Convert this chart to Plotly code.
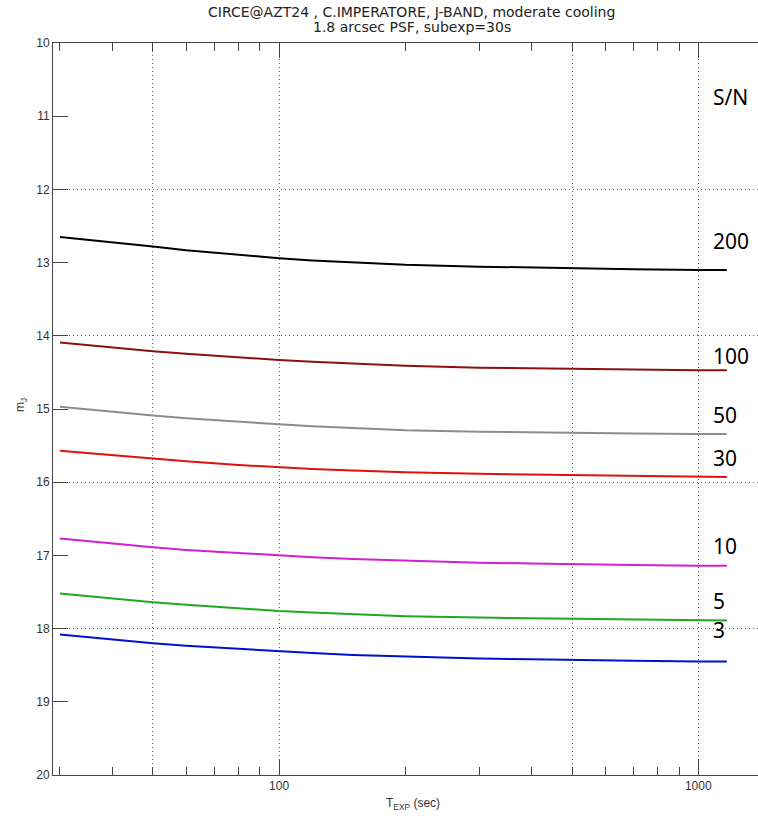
import plotly.graph_objects as go

# ---- data ----
t_exp = [30, 40, 50, 60, 80, 100, 120, 150, 200, 300, 400, 500, 700, 1000, 1170]
sn_levels = ["200", "100", "50", "30", "10", "5", "3"]
mag_sn200 = [12.65, 12.72, 12.78, 12.83, 12.895, 12.94, 12.97, 13.00, 13.03, 13.055, 13.07, 13.08, 13.09, 13.10, 13.10]
mag_sn100 = [14.09, 14.16, 14.21, 14.245, 14.295, 14.33, 14.355, 14.38, 14.41, 14.435, 14.445, 14.455, 14.46, 14.47, 14.47]
mag_sn50 = [14.97, 15.04, 15.09, 15.125, 15.175, 15.21, 15.235, 15.26, 15.29, 15.31, 15.32, 15.33, 15.335, 15.34, 15.34]
mag_sn30 = [15.57, 15.63, 15.68, 15.715, 15.765, 15.80, 15.82, 15.84, 15.865, 15.885, 15.895, 15.90, 15.91, 15.92, 15.93]
mag_sn10 = [16.77, 16.84, 16.89, 16.925, 16.97, 17.00, 17.025, 17.05, 17.075, 17.10, 17.11, 17.12, 17.13, 17.14, 17.14]
mag_sn5 = [17.52, 17.59, 17.64, 17.675, 17.725, 17.76, 17.78, 17.80, 17.83, 17.85, 17.86, 17.87, 17.88, 17.89, 17.89]
mag_sn3 = [18.08, 18.15, 18.20, 18.235, 18.28, 18.31, 18.335, 18.36, 18.385, 18.41, 18.42, 18.43, 18.44, 18.45, 18.45]
series = [mag_sn200, mag_sn100, mag_sn50, mag_sn30, mag_sn10, mag_sn5, mag_sn3]
colors = ["#000000", "#8B1010", "#8C8C8C", "#E01010", "#D020D0", "#20A820", "#0010D0"]
label_mag = [12.70, 14.27, 15.08, 15.67, 16.87, 17.62, 18.02]

x_major = [100, 1000]
x_minor = [30, 40, 50, 60, 70, 80, 90, 200, 300, 400, 500, 600, 700, 800, 900]
x_grid = [50, 100, 500, 1000]
y_ticks = list(range(10, 21))
y_grid = [12, 14, 16, 18]

xr = [1.4606, 3.1425]
yr = [20, 10]

fig = go.Figure()
for vals, col in zip(series, colors):
    fig.add_trace(go.Scatter(x=t_exp, y=vals, mode="lines",
                             line=dict(color=col, width=2), showlegend=False,
                             hoverinfo="skip"))
fig.add_trace(go.Scatter(x=[None], y=[None], xaxis="x2", yaxis="y2",
                         showlegend=False, hoverinfo="skip"))

axcol = "#444444"
gridcol = "#666666"
tickfont = dict(family="Liberation Sans", size=12, color="#333333")

fig.update_layout(
    width=758, height=821,
    margin=dict(l=53, r=0, t=43, b=46),
    paper_bgcolor="white", plot_bgcolor="white",
    xaxis=dict(type="log", range=xr, tickmode="array", tickvals=x_major,
               ticktext=["100", "1000"], ticks="inside", ticklen=15,
               tickcolor=axcol, tickwidth=1, showgrid=False, zeroline=False,
               showline=True, linecolor=axcol, linewidth=1, mirror="ticks",
               tickfont=tickfont,
               minor=dict(tickmode="array", tickvals=x_minor, ticks="inside",
                          ticklen=8, tickcolor=axcol, tickwidth=1,
                          showgrid=False)),
    yaxis=dict(range=yr, tickmode="array", tickvals=y_ticks,
               ticks="inside", ticklen=15, tickcolor=axcol, tickwidth=1,
               showgrid=False, zeroline=False, showline=True,
               linecolor=axcol, linewidth=1, mirror=False, tickfont=tickfont),
    xaxis2=dict(type="log", range=xr, overlaying="x", anchor="y",
                tickmode="array", tickvals=x_grid, showticklabels=False,
                ticks="", showgrid=True, gridcolor=gridcol, gridwidth=1,
                griddash="1px,3px", zeroline=False, showline=False),
    yaxis2=dict(range=yr, overlaying="y", anchor="x", tickmode="array",
                tickvals=y_grid, showticklabels=False, ticks="",
                showgrid=True, gridcolor=gridcol, gridwidth=1,
                griddash="1px,3px", zeroline=False, showline=False),
)

title_font = dict(family="DejaVu Sans", size=14, color="#222222")
fig.add_annotation(text="CIRCE@AZT24 , C.IMPERATORE, J-BAND, moderate cooling",
                   xref="paper", yref="paper", x=0.509, y=1.0430,
                   xanchor="center", yanchor="middle", showarrow=False,
                   font=title_font)
fig.add_annotation(text="1.8 arcsec PSF, subexp=30s",
                   xref="paper", yref="paper", x=0.509, y=1.0212,
                   xanchor="center", yanchor="middle", showarrow=False,
                   font=title_font)
fig.add_annotation(text="T<sub>EXP</sub> (sec)", xref="paper", yref="paper",
                   x=0.5106, y=-0.040, xanchor="center", yanchor="middle",
                   showarrow=False, font=tickfont)
fig.add_annotation(text="m<sub>J</sub>", xref="paper", yref="paper",
                   x=-0.0454, y=0.5055, xanchor="center", yanchor="middle",
                   textangle=-90, showarrow=False, font=tickfont)

lab_font = dict(family="Noto Sans", size=21, color="#000000")
lab_x = 3.0303
fig.add_annotation(text="S/N", x=lab_x, y=10.734, xref="x", yref="y",
                   xanchor="left", yanchor="middle", showarrow=False,
                   font=lab_font)
for txt, m in zip(sn_levels, label_mag):
    fig.add_annotation(text=txt, x=lab_x, y=m, xref="x", yref="y",
                       xanchor="left", yanchor="middle", showarrow=False,
                       font=lab_font)

fig.write_html("out.html")
